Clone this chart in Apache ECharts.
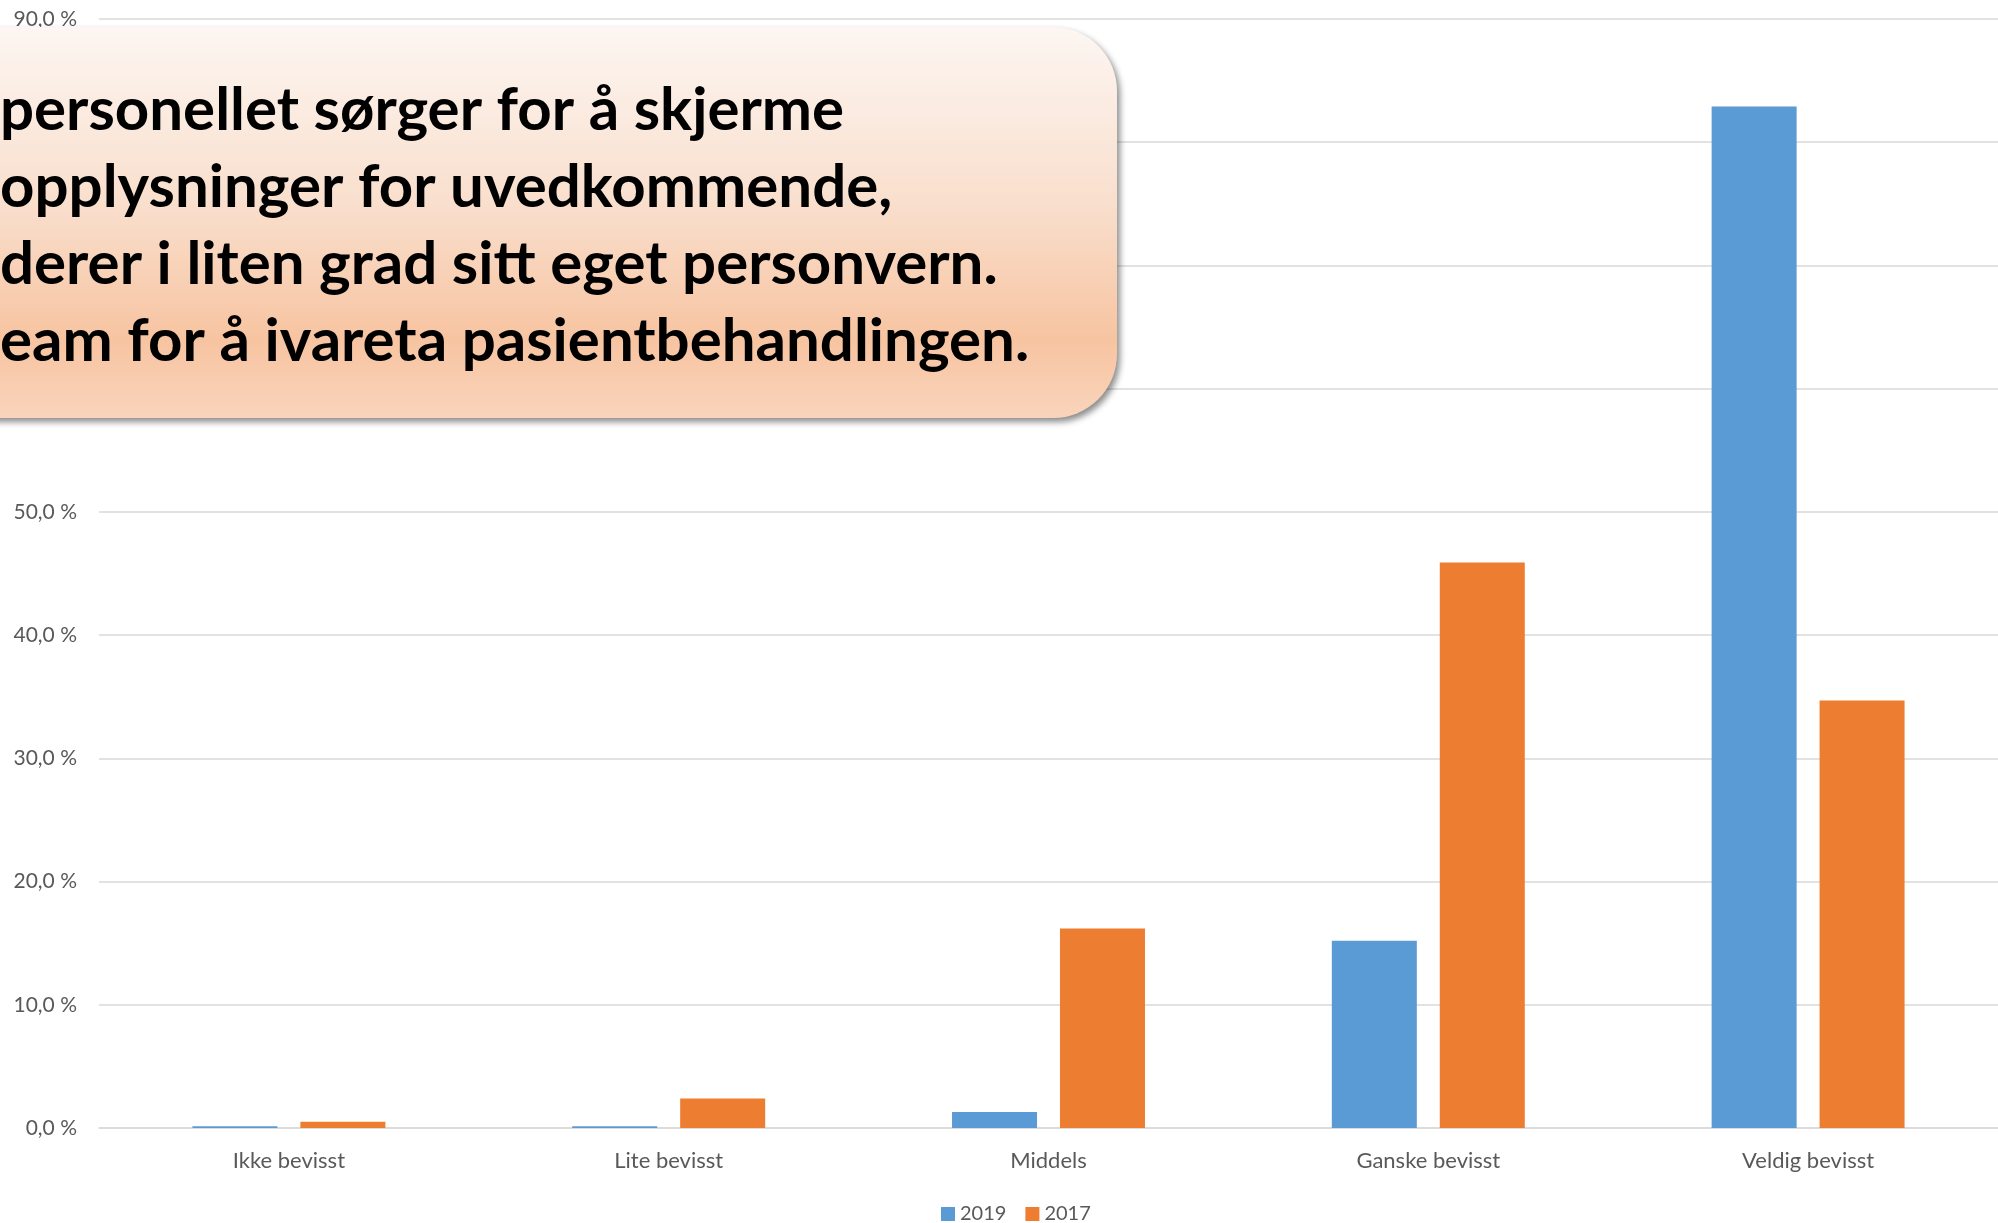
<!DOCTYPE html>
<meta charset="utf-8">
<style>
html, body { margin: 0; padding: 0; background: #fff; }
#main { width: 1998px; height: 1223px; }
</style>
<div id="main"></div>
<script src="https://cdn.jsdelivr.net/npm/echarts@6/dist/echarts.min.js"></script>
<script>
var categories = ['Ikke bevisst', 'Lite bevisst', 'Middels', 'Ganske bevisst', 'Veldig bevisst'];
var values2019 = [0.15, 0.15, 1.3, 15.2, 82.9];
var values2017 = [0.5, 2.4, 16.2, 45.9, 34.7];
var seriesNames = ['2019', '2017'];
var calloutLines = [
    'personellet sørger for å skjerme',
    'opplysninger for uvedkommende,',
    'derer i liten grad sitt eget personvern.',
    'eam for å ivareta pasientbehandlingen.'
];

var chart = echarts.init(document.getElementById('main'));

var labelFont = 'Lato, "Open Sans", sans-serif';
var calloutFont = 'bold 60px Lato, "Open Sans", sans-serif';

function pct(v) {
    return v.toFixed(1).replace('.', ',') + ' %';
}

var textEls = calloutLines.map(function (line, i) {
    return {
        type: 'text',
        x: 0,
        y: 141 + i * 77,
        z: 101,
        style: {
            text: line,
            font: calloutFont,
            fill: '#000',
            verticalAlign: 'bottom'
        }
    };
});

var option = {
    animation: false,
    grid: { left: 99, right: 0, top: 19, bottom: 95, containLabel: false },
    legend: {
        data: seriesNames,
        left: 936,
        top: 1199,
        itemWidth: 14,
        itemHeight: 14,
        itemGap: 19,
        icon: 'rect',
        textStyle: { color: '#595959', fontSize: 20, fontFamily: labelFont }
    },
    xAxis: {
        type: 'category',
        data: categories,
        axisLine: { lineStyle: { color: '#d9d9d9', width: 1.5 } },
        axisTick: { show: false },
        axisLabel: { color: '#595959', fontSize: 22, fontFamily: labelFont, margin: 22 }
    },
    yAxis: {
        type: 'value',
        min: 0,
        max: 90,
        interval: 10,
        axisLine: { show: false },
        axisTick: { show: false },
        splitLine: { lineStyle: { color: '#d9d9d9', width: 1.5 } },
        axisLabel: {
            color: '#595959', fontSize: 21, fontFamily: labelFont, margin: 22,
            formatter: pct
        }
    },
    series: [
        {
            name: seriesNames[0],
            type: 'bar',
            data: values2019,
            barWidth: 85,
            barGap: '27%',
            itemStyle: { color: '#5b9bd5' }
        },
        {
            name: seriesNames[1],
            type: 'bar',
            data: values2017,
            barWidth: 85,
            barGap: '27%',
            itemStyle: { color: '#ed7d31' }
        }
    ],
    graphic: [
        {
            type: 'rect',
            z: 100,
            shape: { x: -80, y: 27, width: 1197, height: 391, r: 64 },
            style: {
                fill: {
                    type: 'linear', x: 0, y: 0, x2: 0, y2: 1,
                    colorStops: [
                        { offset: 0, color: '#fdf6f2' },
                        { offset: 0.45, color: '#f9dfcd' },
                        { offset: 0.8, color: '#f7c4a1' },
                        { offset: 1, color: '#f9d4bb' }
                    ]
                },
                shadowColor: 'rgba(0,0,0,0.45)',
                shadowBlur: 6,
                shadowOffsetX: 3,
                shadowOffsetY: 4
            }
        }
    ].concat(textEls)
};

chart.setOption(option);
</script>
